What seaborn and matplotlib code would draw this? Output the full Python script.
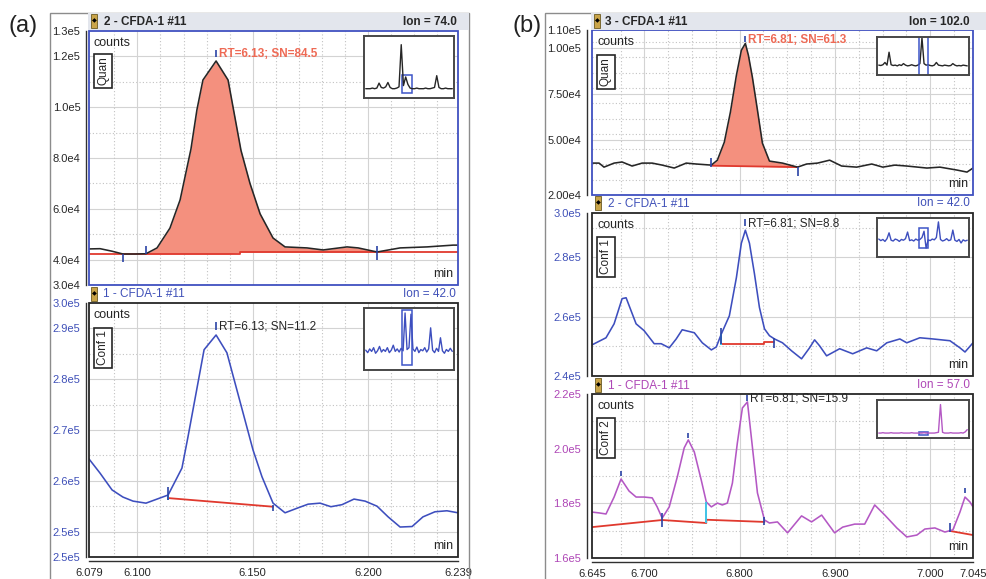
import numpy as np
import pandas as pd
import matplotlib
matplotlib.use("Agg")
import matplotlib.pyplot as plt
from matplotlib.patches import Rectangle
import seaborn as sns

# ---------------------------------------------------------------- data
# (a) CFDA-1 #11 — ion 74.0 (Quan)
a_quan_t = [6.0790, 6.0838, 6.0890, 6.0937, 6.0989, 6.1037, 6.1085, 6.1141, 6.1185,
            6.1232, 6.1258, 6.1284, 6.1341, 6.1393, 6.1449, 6.1488, 6.1532, 6.1588,
            6.1640, 6.1735, 6.1805, 6.1909, 6.1957, 6.2039, 6.2139, 6.2256, 6.2369, 6.2390]
a_quan_v = [44200, 44300, 43300, 42200, 42200, 42300, 44600, 52400, 63500,
            83500, 99000, 110700, 118200, 110700, 83000, 70000, 58000, 48500,
            45000, 44600, 43800, 45000, 44600, 43000, 44600, 45000, 45700, 45700]
a_quan_base_t = [6.0790, 6.1445, 6.1445, 6.2390]
a_quan_base_v = [42200, 42200, 42900, 42900]
a_quan_window = [6.1037, 6.2039]
a_quan_marks_t = [6.0937, 6.1037, 6.2039, 6.1341]
a_quan_marks_lo = [39000, 42200, 39800, 119800]
a_quan_marks_hi = [42200, 45400, 45400, 122500]
a_quan_inset = [0.15, 0.15, 0.15, 0.16, 0.15, 0.16, 0.24, 0.17, 0.16, 0.18, 0.25, 0.17,
                0.15, 0.15, 0.16, 0.18, 0.86, 0.20, 0.34, 0.22, 0.16, 0.15, 0.15, 0.16,
                0.15, 0.15, 0.15, 0.16, 0.15, 0.15, 0.16, 0.17, 0.36, 0.17, 0.15, 0.15,
                0.16, 0.15, 0.15, 0.15]

# (a) CFDA-1 #11 — ion 42.0 (Conf 1)
a_conf_t = [6.0790, 6.0838, 6.0890, 6.0937, 6.0981, 6.1037, 6.1085, 6.1133, 6.1193,
            6.1219, 6.1289, 6.1341, 6.1388, 6.1501, 6.1540, 6.1588, 6.1640, 6.1692,
            6.1740, 6.1792, 6.1839, 6.1887, 6.1939, 6.1987, 6.2039, 6.2087, 6.2139,
            6.2191, 6.2238, 6.2290, 6.2342, 6.2390]
a_conf_v = [264300, 261500, 258200, 256800, 256000, 255600, 256400, 257200, 262500,
            268600, 285800, 288700, 285200, 266100, 260800, 255600, 253700, 254600,
            255400, 255600, 254900, 255300, 256400, 256000, 255000, 252900, 250900,
            251000, 252900, 253900, 254100, 253700]
a_conf_base_t = [6.1133, 6.1588]
a_conf_base_v = [256600, 254900]
a_conf_marks_t = [6.1133, 6.1588, 6.1341]
a_conf_marks_lo = [256200, 254000, 289600]
a_conf_marks_hi = [258800, 255300, 291200]
a_conf_inset = [0.32, 0.28, 0.34, 0.30, 0.36, 0.27, 0.31, 0.38, 0.29, 0.33, 0.30, 0.36,
                0.28, 0.32, 0.40, 0.30, 0.34, 0.29, 0.35, 0.31, 0.92, 0.33, 0.36, 0.90,
                0.34, 0.30, 0.37, 0.28, 0.33, 0.31, 0.36, 0.29, 0.34, 0.68, 0.32, 0.28,
                0.35, 0.30, 0.52, 0.31, 0.27, 0.33, 0.30, 0.35, 0.30]

# (b) CFDA-1 #11 — ion 102.0 (Quan)
b_quan_t = [6.6450, 6.6524, 6.6576, 6.6682, 6.6766, 6.6871, 6.6976, 6.7082, 6.7187,
            6.7313, 6.7439, 6.7545, 6.7703, 6.7766, 6.7839, 6.7903, 6.7966, 6.8018,
            6.8060, 6.8092, 6.8134, 6.8187, 6.8239, 6.8313, 6.8450, 6.8608, 6.8703,
            6.8818, 6.8945, 6.9071, 6.9229, 6.9387, 6.9503, 6.9629, 6.9755, 6.9966,
            7.0103, 7.0282, 7.0387, 7.0450]
b_quan_v = [37400, 37400, 35200, 37400, 38000, 35800, 37400, 37400, 36300,
            34700, 37400, 36900, 36300, 39000, 48800, 65200, 85300, 98900,
            102700, 96200, 84200, 66300, 48300, 38500, 37400, 35200, 36900,
            37400, 39000, 35800, 35200, 36900, 35200, 36300, 35800, 34700,
            35200, 33600, 32500, 34700]
b_quan_base_t = [6.7703, 6.8608]
b_quan_base_v = [36000, 35200]
b_quan_window = [6.7703, 6.8608]
b_quan_marks_t = [6.7703, 6.8608, 6.8060]
b_quan_marks_lo = [35200, 30300, 103600]
b_quan_marks_hi = [40100, 35200, 106800]
b_quan_inset = [0.26, 0.25, 0.27, 0.33, 0.26, 0.60, 0.27, 0.25, 0.26, 0.24, 0.27, 0.25,
                0.30, 0.26, 0.24, 0.25, 0.27, 0.25, 0.24, 0.26, 0.30, 0.98, 0.30, 0.26,
                0.27, 0.25, 0.24, 0.26, 0.33, 0.26, 0.25, 0.24, 0.26, 0.25, 0.24, 0.25,
                0.30, 0.26, 0.24, 0.25, 0.24, 0.26, 0.25, 0.24]

# (b) CFDA-1 #11 — ion 42.0 (Conf 1)
b_c1_t = [6.6450, 6.6597, 6.6682, 6.6766, 6.6808, 6.6913, 6.6997, 6.7103, 6.7176,
          6.7261, 6.7334, 6.7397, 6.7524, 6.7608, 6.7703, 6.7755, 6.7808, 6.7892,
          6.7966, 6.8018, 6.8060, 6.8103, 6.8155, 6.8208, 6.8261, 6.8313, 6.8366,
          6.8450, 6.8545, 6.8650, 6.8734, 6.8787, 6.8839, 6.8913, 6.9050, 6.9187,
          6.9334, 6.9439, 6.9545, 6.9682, 6.9755, 6.9892, 7.0029, 7.0208, 7.0313,
          7.0366, 7.0450]
b_c1_v = [250500, 252900, 257600, 266100, 266400, 257600, 255300, 250900, 250900,
          249500, 252500, 255600, 254600, 251200, 248800, 249800, 254200, 260300,
          273200, 284800, 289200, 284800, 274600, 263100, 255900, 253600, 252500,
          251200, 248500, 245800, 249500, 252200, 250200, 246800, 249200, 247500,
          249500, 248500, 251200, 252500, 251200, 252900, 252500, 251900, 249500,
          248100, 251200]
b_c1_base_t = [6.7808, 6.8261, 6.8261, 6.8366]
b_c1_base_v = [250900, 250900, 251500, 251500]
b_c1_marks_t = [6.7808, 6.8366, 6.8060]
b_c1_marks_lo = [250900, 249500, 290500]
b_c1_marks_hi = [256300, 252900, 292900]
b_c1_inset = [0.46, 0.42, 0.45, 0.40, 0.47, 0.62, 0.43, 0.41, 0.46, 0.44, 0.40, 0.45,
              0.43, 0.47, 0.64, 0.42, 0.44, 0.41, 0.46, 0.43, 0.45, 0.50, 0.66, 0.23,
              0.44, 0.42, 0.46, 0.44, 0.50, 0.90, 0.45, 0.41, 0.43, 0.47, 0.42, 0.44,
              0.69, 0.43, 0.40, 0.45, 0.36, 0.44, 0.41, 0.43]

# (b) CFDA-1 #11 — ion 57.0 (Conf 2)
b_c2_t = [6.6450, 6.6524, 6.6597, 6.6682, 6.6755, 6.6839, 6.6913, 6.6997, 6.7082,
          6.7134, 6.7187, 6.7261, 6.7345, 6.7418, 6.7461, 6.7524, 6.7597, 6.7650,
          6.7703, 6.7766, 6.7818, 6.7871, 6.7924, 6.7976, 6.8029, 6.8082, 6.8134,
          6.8187, 6.8261, 6.8313, 6.8397, 6.8503, 6.8650, 6.8755, 6.8861, 6.8997,
          6.9082, 6.9208, 6.9313, 6.9418, 6.9524, 6.9650, 6.9755, 6.9861, 6.9945,
          7.0050, 7.0155, 7.0239, 7.0313, 7.0366, 7.0418, 7.0450]
b_c2_v = [176800, 176500, 176100, 182300, 188900, 184500, 182300, 182300, 182000,
          178700, 174600, 178700, 189600, 200300, 203200, 198800, 188500, 180500,
          178700, 180100, 179400, 180100, 187400, 202100, 214900, 217100, 200600,
          183800, 173900, 172800, 173200, 169200, 175400, 173200, 175700, 169200,
          171300, 172400, 172400, 179400, 175700, 171000, 167700, 168400, 170600,
          171000, 169500, 170300, 176800, 182300, 180500, 178700]
b_c2_base_t = [6.6450, 6.7187, 6.7650, 6.7650, 6.8261, np.nan, 7.0208, 7.0450]
b_c2_base_v = [171300, 173900, 172800, 174000, 173200, np.nan, 169900, 168400]
b_c2_marks_t = [6.6755, 6.7187, 6.7461, 6.8261, 6.8082, 7.0208, 7.0366]
b_c2_marks_lo = [190000, 171300, 204000, 172100, 217600, 169500, 183800]
b_c2_marks_hi = [192000, 176500, 205800, 175000, 219800, 172800, 185600]
b_c2_inset = [0.13, 0.13, 0.14, 0.13, 0.13, 0.13, 0.14, 0.13, 0.13, 0.13, 0.13, 0.14,
              0.13, 0.13, 0.13, 0.13, 0.14, 0.13, 0.13, 0.13, 0.13, 0.13, 0.14, 0.13,
              0.13, 0.13, 0.13, 0.13, 0.14, 0.15, 0.88, 0.15, 0.13, 0.13, 0.13, 0.14,
              0.13, 0.13, 0.13, 0.13, 0.14, 0.13, 0.16, 0.22]

# valley drop lines (time, low, high)
a_conf_drop = [6.1133, 256300, 257100]
b_c1_drop = [6.7808, 250500, 254200]
b_c2_drop = [6.7650, 172800, 180500]

# ---------------------------------------------------------------- style
sns.set_style("white")
plt.rcParams['font.family'] = ['Liberation Sans', 'DejaVu Sans']

BLACK = '#262626'
BLUE = '#3D4EBE'
BLUE_TXT = '#3F50B8'
MAGENTA = '#B458C4'
MAG_TXT = '#AE46B6'
SALMON = '#F4907E'
SALMON_TXT = '#EE6A55'
RED = '#E0392E'
MARK = '#2A43A6'
CYAN = '#3FC3E6'
FRAME_SEL = '#4050C0'

W, H = 986, 579
fig = plt.figure(figsize=(W / 100, H / 100), dpi=100)


def rect_px(x0, y0, x1, y1):
    return [x0 / W, 1 - y1 / H, (x1 - x0) / W, (y1 - y0) / H]


def fig_text(x, y, s, **kw):
    fig.text(x / W, 1 - y / H, s, **kw)


GRID_SOLID = dict(color='#d3d3d3', lw=0.8, zorder=0)
GRID_DOT = dict(color='#c2c2c2', lw=0.8, ls=(0, (1, 2)), zorder=0)

XA_LIM = (6.079, 6.239)
XA_TICKS = [6.079, 6.100, 6.150, 6.200, 6.239]
XA_LABELS = ['6.079', '6.100', '6.150', '6.200', '6.239']
XA_MINOR = np.round(np.arange(6.09, 6.235, 0.01), 3)
XA_GS = [6.10, 6.15, 6.20]
XA_GD = [x for x in XA_MINOR if round(x, 3) not in (6.1, 6.15, 6.2)]

XB_LIM = (6.645, 7.045)
XB_TICKS = [6.645, 6.700, 6.800, 6.900, 7.000, 7.045]
XB_LABELS = ['6.645', '6.700', '6.800', '6.900', '7.000', '7.045']
XB_MINOR = np.round(np.arange(6.675, 7.03, 0.025), 3)
XB_GS = [6.7, 6.8, 6.9, 7.0]
XB_GD = [x for x in XB_MINOR if round(x, 3) not in (6.7, 6.8, 6.9, 7.0)]


def chrom_axes(rect, t, v, color, xlim, ylim, yticks, ylabels, yminor, ygs, ygd,
               xgs, xgd, frame, labcolor, yoff, show_x=False, xticks=None,
               xlabels=None, xminor=None):
    ax = fig.add_axes(rect)
    df = pd.DataFrame({'t': t, 'v': v})
    sns.lineplot(data=df, x='t', y='v', ax=ax, color=color, lw=1.15, zorder=4)
    ax.set_xlabel('')
    ax.set_ylabel('')
    ax.set_xlim(*xlim)
    ax.set_ylim(*ylim)
    for g in ygs:
        ax.axhline(g, **GRID_SOLID)
    for g in ygd:
        ax.axhline(g, **GRID_DOT)
    for g in xgs:
        ax.axvline(g, **GRID_SOLID)
    for g in xgd:
        ax.axvline(g, **GRID_DOT)
    ax.spines['top'].set_visible(False)
    ax.spines['right'].set_visible(False)
    ax.spines['left'].set_position(('outward', yoff))
    ax.spines['left'].set_color('#303030')
    ax.spines['left'].set_linewidth(1.0)
    ax.add_patch(Rectangle((0, 0), 1, 1, transform=ax.transAxes, fill=False,
                           ec=frame, lw=1.3, clip_on=False, zorder=7))
    ax.set_yticks(yticks, labels=ylabels)
    ax.set_yticks(yminor, minor=True)
    ax.tick_params(axis='y', which='major', direction='out', length=3.2, width=0.8,
                   pad=0.8, labelsize=8, labelcolor=labcolor, color='#303030')
    ax.tick_params(axis='y', which='minor', direction='out', length=2.0, width=0.7,
                   color='#303030')
    if show_x:
        ax.spines['bottom'].set_position(('outward', 2.9))
        ax.spines['bottom'].set_color('#303030')
        ax.spines['bottom'].set_linewidth(1.0)
        ax.set_xticks(xticks, labels=xlabels)
        ax.set_xticks(xminor, minor=True)
        ax.tick_params(axis='x', which='major', direction='out', length=3.6, width=0.8,
                       pad=1.2, labelsize=8, labelcolor=BLACK, color='#303030')
        ax.tick_params(axis='x', which='minor', direction='out', length=3.0, width=0.7,
                       color='#303030')
    else:
        ax.spines['bottom'].set_visible(False)
        ax.tick_params(axis='x', which='both', bottom=False, labelbottom=False)
    return ax


def decorate(ax, tag, tag_dy):
    ax.annotate('counts', xy=(0, 1), xycoords='axes fraction', xytext=(5, -12),
                textcoords='offset pixels', ha='left', va='center', fontsize=9,
                color=BLACK, zorder=8)
    ax.annotate(tag, xy=(0, 1), xycoords='axes fraction', xytext=(14, -tag_dy),
                textcoords='offset pixels', ha='center', va='center', rotation=90,
                fontsize=8.5, color=BLACK, zorder=8,
                bbox=dict(boxstyle='square,pad=0.25', fc='white', ec=BLACK, lw=1.2))
    ax.annotate('min', xy=(1, 0), xycoords='axes fraction', xytext=(-5, 11),
                textcoords='offset pixels', ha='right', va='center', fontsize=9,
                color=BLACK, zorder=8)


def marks(ax, mt, lo, hi):
    ax.vlines(mt, lo, hi, color=MARK, lw=1.2, zorder=6)


def rt_label(ax, t_peak, v_top, text, color, bold):
    ax.annotate(text, xy=(t_peak, v_top), xytext=(3, -4), textcoords='offset pixels',
                ha='left', va='center', fontsize=8.5, color=color,
                fontweight='bold' if bold else 'normal', zorder=8)


def inset(rect, vals, color, box=None, vlines=None):
    ia = fig.add_axes(rect)
    xs = np.linspace(0, 1, len(vals))
    sns.lineplot(x=xs, y=vals, ax=ia, color=color, lw=1.0)
    ia.set_xlim(-0.02, 1.02)
    ia.set_ylim(0, 1)
    ia.set_xticks([])
    ia.set_yticks([])
    ia.set_xlabel('')
    ia.set_ylabel('')
    for s in ia.spines.values():
        s.set_color('#474747')
        s.set_linewidth(1.4)
    if box is not None:
        x0, x1, y0, y1 = box
        ia.add_patch(Rectangle((x0, y0), x1 - x0, y1 - y0, fill=False, ec='#3D55C8', lw=1.1))
    if vlines is not None:
        for xv in vlines:
            ia.axvline(xv, color='#3D55C8', lw=1.1)
    return ia


def icon(x, y):
    fig.add_artist(Rectangle((x / W, 1 - (y + 7) / H), 6 / W, 14 / H,
                             transform=fig.transFigure, fc='#C9A449', ec='#6B5A20', lw=0.6))
    fig_text(x + 3, y, '◆', fontsize=4.5, color='black', ha='center', va='center',
             family=['DejaVu Sans'])


# ---------------------------------------------------------------- panel frames
for (x0, x1) in [(50, 469), (545, 990)]:
    fig.add_artist(Rectangle((x0 / W, -0.02), (x1 - x0) / W, 1.02 - 13 / H,
                             transform=fig.transFigure, fill=False, ec='#8c8c8c', lw=1.0))
fig.add_artist(Rectangle((88 / W, 1 - 30 / H), (469 - 88) / W, 17 / H,
                         transform=fig.transFigure, fc='#E3E6ED', ec='none'))
fig.add_artist(Rectangle((591 / W, 1 - 30 / H), (986 - 591) / W, 17 / H,
                         transform=fig.transFigure, fc='#E3E6ED', ec='none'))
fig_text(23, 26, '(a)', fontsize=17, ha='center', va='center', color='#222222')
fig_text(527, 26, '(b)', fontsize=17, ha='center', va='center', color='#222222')

# ---------------------------------------------------------------- (a) top: Quan
ax = chrom_axes(rect_px(89, 31, 458, 285), a_quan_t, a_quan_v, BLACK, XA_LIM,
                (30000, 130000),
                [30000, 40000, 60000, 80000, 100000, 120000, 130000],
                ['3.0e4', '4.0e4', '6.0e4', '8.0e4', '1.0e5', '1.2e5', '1.3e5'],
                np.arange(30000, 130001, 5000),
                [40000, 60000, 80000, 100000, 120000], [50000, 70000, 90000, 110000],
                XA_GS, XA_GD, FRAME_SEL, BLACK, 2.2)
t = np.array(a_quan_t)
v = np.array(a_quan_v)
m = (t >= a_quan_window[0]) & (t <= a_quan_window[1])
ax.fill_between(t[m], v[m], np.interp(t[m], a_quan_base_t, a_quan_base_v),
                color=SALMON, lw=0, zorder=2)
ax.plot(a_quan_base_t, a_quan_base_v, color=RED, lw=1.3, zorder=3)
marks(ax, a_quan_marks_t, a_quan_marks_lo, a_quan_marks_hi)
rt_label(ax, a_quan_marks_t[-1], a_quan_marks_hi[-1], 'RT=6.13; SN=84.5', SALMON_TXT, True)
decorate(ax, 'Quan', 40)
icon(91, 21)
fig_text(104, 22, '2 - CFDA-1 #11', fontsize=8.5, fontweight='bold', color=BLACK,
         ha='left', va='center')
fig_text(457, 22, 'Ion = 74.0', fontsize=8.5, fontweight='bold', color=BLACK,
         ha='right', va='center')
inset(rect_px(364, 36, 454, 98), a_quan_inset, BLACK, box=(0.42, 0.535, 0.08, 0.37))

# ---------------------------------------------------------------- (a) bottom: Conf 1
ax = chrom_axes(rect_px(89, 303, 458, 557), a_conf_t, a_conf_v, BLUE, XA_LIM,
                (245000, 295000),
                [245000, 250000, 260000, 270000, 280000, 290000, 295000],
                ['2.5e5', '2.5e5', '2.6e5', '2.7e5', '2.8e5', '2.9e5', '3.0e5'],
                np.arange(245000, 295001, 2500),
                [250000, 260000, 270000, 280000, 290000],
                [255000, 265000, 275000, 285000],
                XA_GS, XA_GD, BLACK, BLUE_TXT, 2.2, show_x=True,
                xticks=XA_TICKS, xlabels=XA_LABELS, xminor=XA_MINOR)
ax.plot(a_conf_base_t, a_conf_base_v, color=RED, lw=1.3, zorder=3)
ax.vlines(a_conf_drop[0], a_conf_drop[1], a_conf_drop[2], color=CYAN, lw=1.4, zorder=5)
marks(ax, a_conf_marks_t, a_conf_marks_lo, a_conf_marks_hi)
rt_label(ax, a_conf_marks_t[-1], a_conf_marks_hi[-1], 'RT=6.13; SN=11.2', BLACK, False)
decorate(ax, 'Conf 1', 45)
icon(91, 294)
fig_text(103, 294, '1 - CFDA-1 #11', fontsize=8.5, color=BLUE_TXT, ha='left', va='center')
fig_text(456, 294, 'Ion = 42.0', fontsize=8.5, color=BLUE_TXT, ha='right', va='center')
inset(rect_px(364, 308, 454, 370), a_conf_inset, BLUE, box=(0.42, 0.535, 0.08, 0.97))

# ---------------------------------------------------------------- (b) top: Quan
b_minor_q = np.arange(20000, 110001, 25000 / 3)
ax = chrom_axes(rect_px(592, 30, 973, 195), b_quan_t, b_quan_v, BLACK, XB_LIM,
                (20000, 110000),
                [20000, 50000, 75000, 100000, 110000],
                ['2.00e4', '5.00e4', '7.50e4', '1.00e5', '1.10e5'],
                b_minor_q, [50000, 75000, 100000],
                [g for g in b_minor_q if all(abs(g - s) > 1 for s in (20000, 50000, 75000, 100000))],
                XB_GS, XB_GD, FRAME_SEL, BLACK, 3.6)
t = np.array(b_quan_t)
v = np.array(b_quan_v)
m = (t >= b_quan_window[0]) & (t <= b_quan_window[1])
ax.fill_between(t[m], v[m], np.interp(t[m], b_quan_base_t, b_quan_base_v),
                color=SALMON, lw=0, zorder=2)
ax.plot(b_quan_base_t, b_quan_base_v, color=RED, lw=1.3, zorder=3)
marks(ax, b_quan_marks_t, b_quan_marks_lo, b_quan_marks_hi)
rt_label(ax, b_quan_marks_t[-1], b_quan_marks_hi[-1], 'RT=6.81; SN=61.3', SALMON_TXT, True)
decorate(ax, 'Quan', 42)
icon(594, 21)
fig_text(605, 22, '3 - CFDA-1 #11', fontsize=8.5, fontweight='bold', color=BLACK,
         ha='left', va='center')
fig_text(970, 22, 'Ion = 102.0', fontsize=8.5, fontweight='bold', color=BLACK,
         ha='right', va='center')
inset(rect_px(877, 37, 969, 75), b_quan_inset, BLACK, vlines=(0.455, 0.557))

# ---------------------------------------------------------------- (b) middle: Conf 1
ax = chrom_axes(rect_px(592, 213, 973, 376), b_c1_t, b_c1_v, BLUE, XB_LIM,
                (240000, 295000),
                [240000, 260000, 280000, 295000],
                ['2.4e5', '2.6e5', '2.8e5', '3.0e5'],
                np.arange(240000, 295001, 5000),
                [260000, 280000], [250000, 270000, 290000],
                XB_GS, XB_GD, BLACK, BLUE_TXT, 3.6)
ax.plot(b_c1_base_t, b_c1_base_v, color=RED, lw=1.3, zorder=3)
ax.vlines(b_c1_drop[0], b_c1_drop[1], b_c1_drop[2], color=CYAN, lw=1.4, zorder=5)
marks(ax, b_c1_marks_t, b_c1_marks_lo, b_c1_marks_hi)
rt_label(ax, b_c1_marks_t[-1], b_c1_marks_hi[-1], 'RT=6.81; SN=8.8', BLACK, False)
decorate(ax, 'Conf 1', 44)
icon(595, 203)
fig_text(608, 204, '2 - CFDA-1 #11', fontsize=8.5, color=BLUE_TXT, ha='left', va='center')
fig_text(970, 203, 'Ion = 42.0', fontsize=8.5, color=BLUE_TXT, ha='right', va='center')
inset(rect_px(877, 218, 969, 257), b_c1_inset, BLUE, box=(0.455, 0.557, 0.23, 0.74))

# ---------------------------------------------------------------- (b) bottom: Conf 2
ax = chrom_axes(rect_px(592, 394, 973, 558), b_c2_t, b_c2_v, MAGENTA, XB_LIM,
                (160000, 220000),
                [160000, 180000, 200000, 220000],
                ['1.6e5', '1.8e5', '2.0e5', '2.2e5'],
                np.arange(160000, 220001, 5000),
                [180000, 200000], [170000, 190000, 210000],
                XB_GS, XB_GD, BLACK, MAG_TXT, 3.6, show_x=True,
                xticks=XB_TICKS, xlabels=XB_LABELS, xminor=XB_MINOR)
ax.plot(b_c2_base_t, b_c2_base_v, color=RED, lw=1.3, zorder=3)
ax.vlines(b_c2_drop[0], b_c2_drop[1], b_c2_drop[2], color=CYAN, lw=1.4, zorder=5)
marks(ax, b_c2_marks_t, b_c2_marks_lo, b_c2_marks_hi)
rt_label(ax, b_c2_marks_t[4], b_c2_marks_hi[4], 'RT=6.81; SN=15.9', BLACK, False)
decorate(ax, 'Conf 2', 44)
icon(595, 385)
fig_text(608, 386, '1 - CFDA-1 #11', fontsize=8.5, color=MAG_TXT, ha='left', va='center')
fig_text(970, 385, 'Ion = 57.0', fontsize=8.5, color=MAG_TXT, ha='right', va='center')
inset(rect_px(877, 400, 969, 438), b_c2_inset, MAGENTA, box=(0.455, 0.557, 0.09, 0.15))

fig.savefig('out.png', dpi=100)
